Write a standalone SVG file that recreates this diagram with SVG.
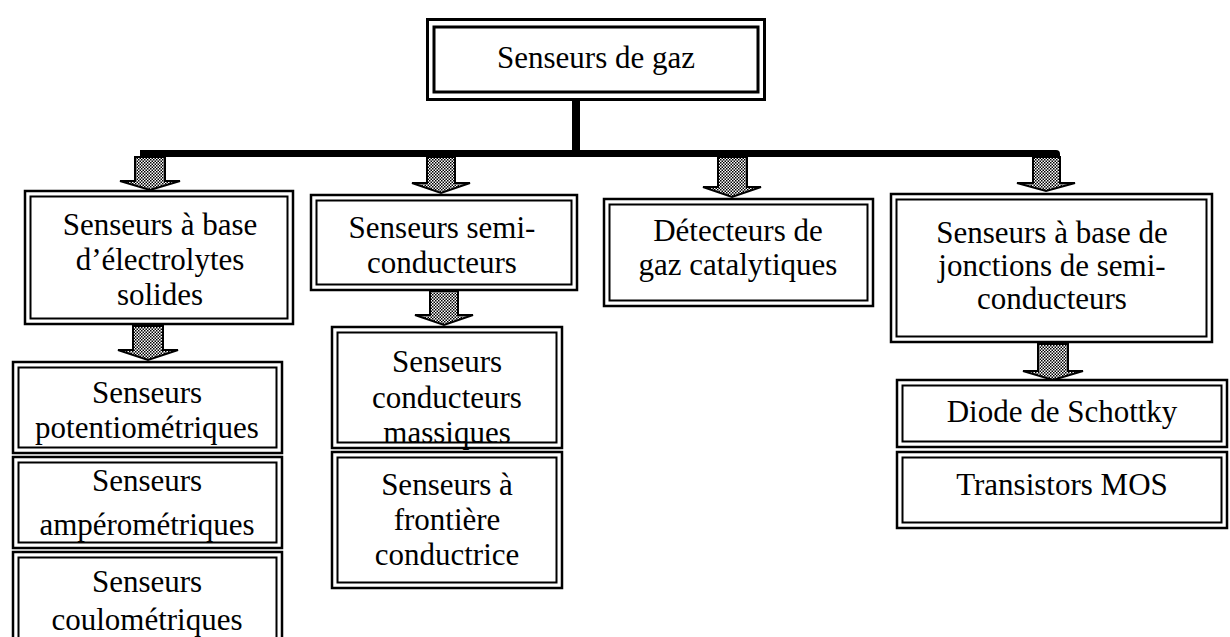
<svg xmlns="http://www.w3.org/2000/svg" width="1230" height="637" viewBox="0 0 1230 637">
<style>
.o{fill:#fff;stroke:#000;stroke-width:2.5}
.i{fill:none;stroke:#000;stroke-width:2}
.t{font-family:"Liberation Serif","Times New Roman",serif;font-size:31px;fill:#000;text-anchor:middle}
.ar{fill:url(#dots);stroke:#000;stroke-width:2;stroke-linejoin:miter}
</style>
<defs>
<pattern id="dots" width="3" height="3" patternUnits="userSpaceOnUse">
<rect width="3" height="3" fill="#fff"/>
<rect width="1.5" height="1.5" fill="#000"/>
<rect x="1.5" y="1.5" width="1.5" height="1.5" fill="#000"/>
</pattern>
</defs>
<rect width="1230" height="637" fill="#fff"/>

<g id="connectors">
<rect x="572" y="100" width="8" height="54" fill="#000"/>
<path d="M140,150 H1056 Q1060,150 1060,154 V157 H140 Z" fill="#000"/>
<polygon class="ar" points="135,157 165,157 165,181 180,181 150,190 120,181 135,181"/>
<polygon class="ar" points="427,157 455,157 455,183 470,183 441,193 412,183 427,183"/>
<polygon class="ar" points="718,157 747,157 747,187 761,187 732,197 703,187 718,187"/>
<polygon class="ar" points="1033,157 1060,157 1060,183 1075,183 1046,191 1017,183 1033,183"/>
<polygon class="ar" points="133,326 163,326 163,350 178,350 148,360 118,350 133,350"/>
<polygon class="ar" points="430,291 458,291 458,315 473,315 444,325 415,315 430,315"/>
<polygon class="ar" points="1038,344 1068,344 1068,371 1083,371 1053,380 1023,371 1038,371"/>
</g>

<g id="n-root">
<rect x="427.5" y="19.5" width="337" height="80" fill="#fff" stroke="#000" stroke-width="3"/>
<rect x="434" y="27" width="324" height="65" fill="none" stroke="#000" stroke-width="3"/>
<text class="t" x="596" y="68">Senseurs de gaz</text>
</g>

<g id="n-electrolytes">
<rect class="o" x="25" y="191" width="268" height="133"/>
<rect class="i" x="30.5" y="196.5" width="257" height="122"/>
<text class="t" x="160" y="235">Senseurs à base</text>
<text class="t" x="160" y="270">d’électrolytes</text>
<text class="t" x="160" y="305">solides</text>
</g>

<g id="n-semi">
<rect class="o" x="311" y="195" width="266" height="95"/>
<rect class="i" x="316.5" y="200.5" width="255" height="84"/>
<text class="t" x="442" y="238">Senseurs semi-</text>
<text class="t" x="442" y="273">conducteurs</text>
</g>

<g id="n-catalytiques">
<rect class="o" x="604" y="199" width="269" height="107"/>
<rect class="i" x="609.5" y="204.5" width="258" height="96"/>
<text class="t" x="738" y="241">Détecteurs de</text>
<text class="t" x="738" y="275">gaz catalytiques</text>
</g>

<g id="n-jonctions">
<rect class="o" x="891" y="194" width="321" height="148"/>
<rect class="i" x="896.5" y="199.5" width="310" height="137"/>
<text class="t" x="1052" y="243">Senseurs à base de</text>
<text class="t" x="1052" y="276">jonctions de semi-</text>
<text class="t" x="1052" y="309">conducteurs</text>
</g>

<g id="n-potentio">
<rect class="o" x="13" y="362" width="269" height="91"/>
<rect class="i" x="18.5" y="367.5" width="258" height="80"/>
<text class="t" x="147" y="403">Senseurs</text>
<text class="t" x="147" y="438">potentiométriques</text>
</g>

<g id="n-ampero">
<rect class="o" x="13" y="457" width="269" height="91"/>
<rect class="i" x="18.5" y="462.5" width="258" height="80"/>
<text class="t" x="147" y="491">Senseurs</text>
<text class="t" x="147" y="535">ampérométriques</text>
</g>

<g id="n-coulo">
<rect class="o" x="13" y="552" width="269" height="100"/>
<rect class="i" x="18.5" y="557.5" width="258" height="90"/>
<text class="t" x="147" y="592">Senseurs</text>
<text class="t" x="147" y="630">coulométriques</text>
</g>

<g id="n-massiques">
<rect class="o" x="332" y="327" width="230" height="121"/>
<rect class="i" x="337.5" y="332.5" width="219" height="110"/>
<text class="t" x="447" y="372">Senseurs</text>
<text class="t" x="447" y="408">conducteurs</text>
<text class="t" x="447" y="443">massiques</text>
</g>

<g id="n-frontiere">
<rect class="o" x="332" y="452" width="230" height="136"/>
<rect class="i" x="337.5" y="457.5" width="219" height="125"/>
<text class="t" x="447" y="495">Senseurs à</text>
<text class="t" x="447" y="530">frontière</text>
<text class="t" x="447" y="565">conductrice</text>
</g>

<g id="n-schottky">
<rect class="o" x="897" y="380" width="330" height="67"/>
<rect class="i" x="902.5" y="385.5" width="319" height="56"/>
<text class="t" x="1062" y="422">Diode de Schottky</text>
</g>

<g id="n-mos">
<rect class="o" x="897" y="452" width="330" height="76"/>
<rect class="i" x="902.5" y="457.5" width="319" height="65"/>
<text class="t" x="1062" y="495">Transistors MOS</text>
</g>
</svg>
